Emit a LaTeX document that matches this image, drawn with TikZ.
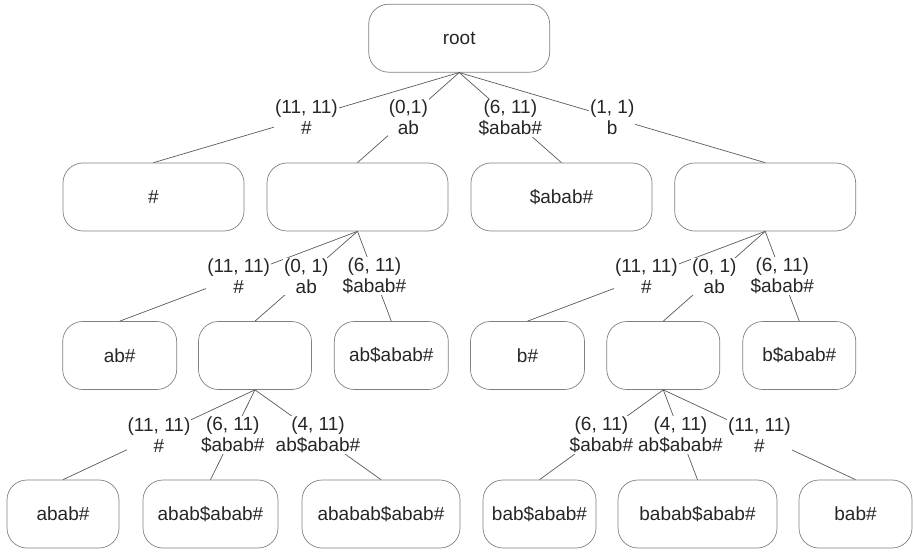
\documentclass[tikz,border=0pt]{standalone}
\usepackage{fontspec}
\setmainfont{Liberation Sans}
\begin{document}
\begin{tikzpicture}[x=1pt,y=-1pt,
  tnode/.style={draw=black!50, line width=0.7pt, rounded corners=20pt,
    minimum height=68pt, inner sep=0pt, text=black!85,
    font=\fontsize{19}{21}\selectfont},
  tedge/.style={draw=black!65, line width=0.7pt},
  elabel/.style={fill=white, inner sep=1pt, align=center, text=black!85,
    font=\fontsize{19}{21}\selectfont}]
\useasboundingbox (0,0) rectangle (913,553);

% level 0
\node[tnode, minimum width=181pt] (root) at (459.2,38.2) {root};

% level 1
\node[tnode, minimum width=181pt] (h)  at (153.5,197) {\#};
\node[tnode, minimum width=181pt] (ab) at (357.5,197) {};
\node[tnode, minimum width=181pt] (s)  at (561.5,197) {\$abab\#};
\node[tnode, minimum width=181pt] (b)  at (765.2,197) {};

% level 2
\node[tnode, minimum width=114pt] (abh)  at (119.7,355.5) {ab\#};
\node[tnode, minimum width=113pt] (abab) at (255,355.5) {};
\node[tnode, minimum width=114pt] (abs)  at (391.3,355.5) {ab\$abab\#};
\node[tnode, minimum width=114pt] (bh)   at (527.5,355.5) {b\#};
\node[tnode, minimum width=113pt] (bab)  at (663.3,355.5) {};
\node[tnode, minimum width=113pt] (bs)   at (799.3,355.5) {b\$abab\#};

% level 3
\node[tnode, minimum width=112pt] (l1) at (63,514)    {abab\#};
\node[tnode, minimum width=135pt] (l2) at (210.5,514) {abab\$abab\#};
\node[tnode, minimum width=158pt] (l3) at (381,514)   {ababab\$abab\#};
\node[tnode, minimum width=113pt] (l4) at (539.5,514) {bab\$abab\#};
\node[tnode, minimum width=159pt] (l5) at (697.5,514) {babab\$abab\#};
\node[tnode, minimum width=113pt] (l6) at (855.5,514) {bab\#};

% edges from the root
\draw[tedge] (root.south) -- (h.north)  node[elabel, midway] {(11, 11)\\\#};
\draw[tedge] (root.south) -- (ab.north) node[elabel, midway] {(0,1)\\ab};
\draw[tedge] (root.south) -- (s.north)  node[elabel, midway] {(6, 11)\\\$abab\#};
\draw[tedge] (root.south) -- (b.north)  node[elabel, midway] {(1, 1)\\b};

% edges below "ab"
\draw[tedge] (ab.south) -- (abh.north)  node[elabel, midway] {(11, 11)\\\#};
\draw[tedge] (ab.south) -- (abab.north) node[elabel, midway] {(0, 1)\\ab};
\draw[tedge] (ab.south) -- (abs.north)  node[elabel, midway] {(6, 11)\\\$abab\#};

% edges below "b"
\draw[tedge] (b.south) -- (bh.north)  node[elabel, midway] {(11, 11)\\\#};
\draw[tedge] (b.south) -- (bab.north) node[elabel, midway] {(0, 1)\\ab};
\draw[tedge] (b.south) -- (bs.north)  node[elabel, midway] {(6, 11)\\\$abab\#};

% edges below "abab"
\draw[tedge] (abab.south) -- (l1.north) node[elabel, midway] {(11, 11)\\\#};
\draw[tedge] (abab.south) -- (l2.north) node[elabel, midway] {(6, 11)\\\$abab\#};
\draw[tedge] (abab.south) -- (l3.north) node[elabel, midway] {(4, 11)\\ab\$abab\#};

% edges below "bab"
\draw[tedge] (bab.south) -- (l4.north) node[elabel, midway] {(6, 11)\\\$abab\#};
\draw[tedge] (bab.south) -- (l5.north) node[elabel, midway] {(4, 11)\\ab\$abab\#};
\draw[tedge] (bab.south) -- (l6.north) node[elabel, midway] {(11, 11)\\\#};
\end{tikzpicture}
\end{document}
